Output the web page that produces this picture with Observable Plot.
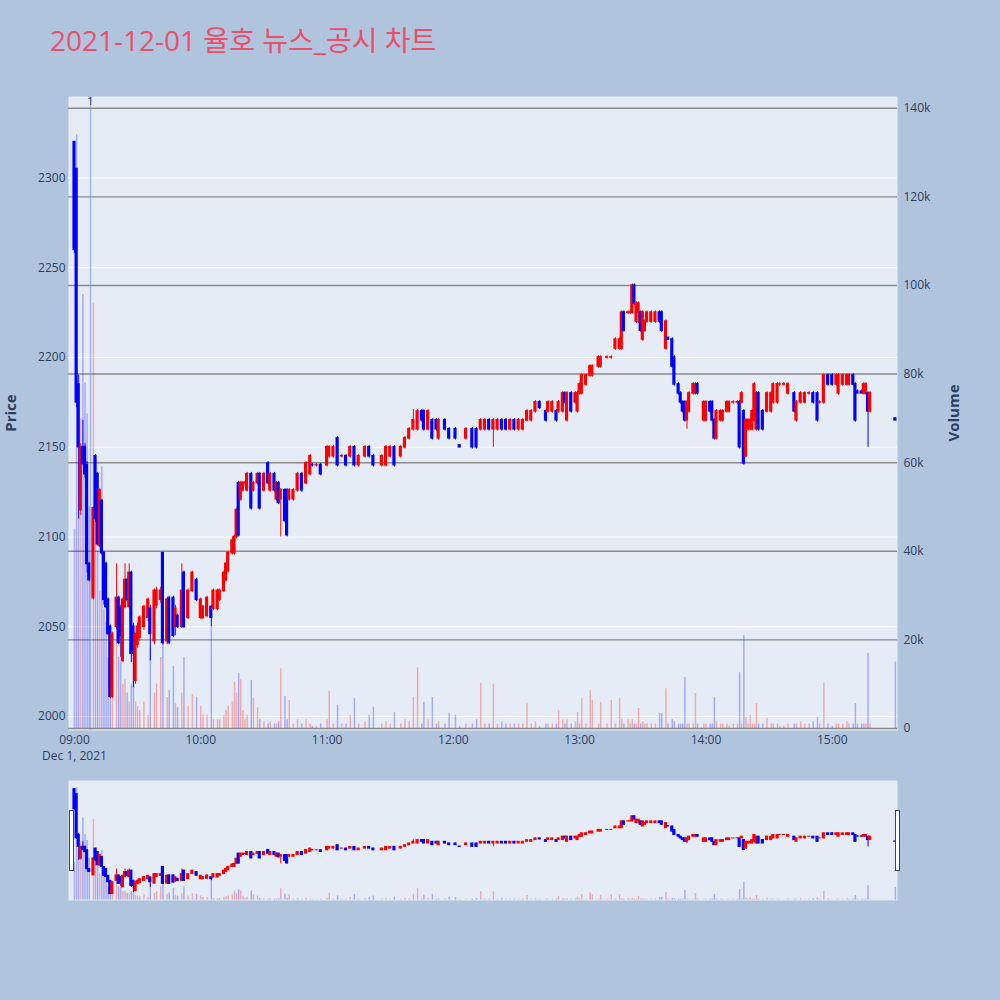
<!DOCTYPE html>
<html><head><meta charset="utf-8">
<script src="https://cdn.jsdelivr.net/npm/d3@7"></script>
<script src="https://cdn.jsdelivr.net/npm/@observablehq/plot@0.6"></script>
<style>
body{margin:0;background:#b0c4de;}
#root{position:relative;width:1000px;height:1000px;background:#b0c4de;overflow:hidden;font-family:"Open Sans","Noto Sans CJK KR",sans-serif;}
.layer{position:absolute;left:0;}
.layer svg{display:block;max-width:none;}
</style></head>
<body><div id="root"></div>
<script>
// ---------- data (minute offsets from 09:00) ----------
const minutes = [
0,1,2,3,4,5,6,7,9,10, 11,12,13,14,15,16,17,18,20,21, 22,23,24,25,26,27,28,29,30,31,
33,35,36,38,39,41,42,44,45,47, 48,49,51,52,54,56,58,60,61,63, 65,66,68,69,71,72,73,75,76,77,
78,79,80,81,82,84,85,87,88,90, 92,93,95,96,97,98,100,101,102,104, 106,108,110,112,113,115,117,120,121,123,
125,127,129,131,133,135,138,140,142,146, 148,150,152,155,157,159,161,163,165,166, 168,170,172,173,176,178,181,183,186,189,
191,193,195,197,199,201,203,205,207,209, 211,213,215,217,219,221,224,225,227,229, 230,232,233,234,236,238,239,240,241,243,
245,246,249,250,253,255,257,259,260,261, 263,264,265,266,267,268,269,270,271,272, 274,276,278,279,281,282,284,285,287,288,
289,290,291,292,294,295,296,299,300,302, 303,304,305,307,308,310,311,313,315,316, 317,318,319,320,321,322,323,324,325,327,
329,331,332,334,335,337,339,342,343,345, 347,349,351,353,354,356,358,360,362,363, 365,367,368,370,371,372,374,375,376,377,
378,390];
const open = [
2320,2305,2185,2115,2150,2150,2140,2085,2066,2145, 2135,2095,2120,2091,2085,2065,2050,2011,2050,2066, 2060,2031,2061,2076,2061,2080,2050,2020,2040,2044,
2050,2055,2060,2042,2062,2065,2091,2042,2066,2066, 2050,2056,2050,2080,2055,2070,2076,2055,2055,2056, 2061,2060,2060,2065,2070,2076,2081,2091,2091,2100,
2130,2121,2126,2130,2126,2135,2126,2130,2135,2126, 2141,2126,2135,2121,2130,2121,2126,2126,2121,2121, 2126,2135,2130,2135,2140,2140,2140,2140,2145,2145,
2155,2145,2145,2145,2150,2140,2145,2150,2145,2140, 2140,2145,2150,2145,2150,2155,2160,2160,2170,2170, 2160,2165,2165,2155,2165,2160,2160,2151,2155,2160,
2160,2160,2160,2165,2160,2160,2165,2165,2160,2165, 2160,2160,2165,2165,2170,2175,2170,2170,2170,2170, 2170,2170,2180,2165,2180,2175,2170,2180,2180,2185,
2190,2190,2195,2195,2200,2200,2205,2205,2205,2225, 2225,2225,2225,2240,2220,2225,2225,2210,2215,2220, 2220,2220,2225,2225,2205,2211,2210,2200,2185,2180,
2175,2175,2165,2170,2180,2180,2185,2165,2165,2175, 2175,2165,2155,2165,2165,2170,2170,2175,2175,2175, 2175,2170,2145,2160,2160,2160,2165,2160,2180,2170,
2170,2170,2175,2175,2185,2185,2180,2180,2165,2175, 2175,2180,2180,2180,2175,2175,2190,2190,2185,2180, 2185,2185,2185,2190,2185,2181,2181,2180,2180,2180,
2170,2166];
const high = [
2320,2305,2190,2152,2165,2152,2142,2086,2117,2146, 2136,2127,2121,2092,2086,2066,2051,2047,2085,2067, 2062,2066,2085,2077,2085,2081,2052,2046,2052,2056,
2062,2066,2062,2071,2072,2072,2091,2066,2067,2067, 2062,2057,2085,2081,2071,2081,2077,2066,2062,2067, 2062,2071,2071,2071,2081,2086,2092,2100,2101,2116,
2131,2131,2131,2131,2136,2136,2131,2136,2136,2136, 2142,2136,2136,2131,2131,2127,2127,2127,2127,2127, 2136,2136,2142,2146,2141,2141,2141,2151,2151,2151,
2156,2146,2146,2151,2151,2146,2151,2151,2146,2146, 2151,2151,2151,2151,2156,2161,2171,2171,2171,2171, 2171,2166,2166,2166,2166,2161,2161,2151,2161,2161,
2161,2166,2166,2166,2166,2166,2166,2166,2166,2166, 2166,2166,2171,2171,2176,2176,2171,2176,2176,2171, 2176,2181,2181,2181,2181,2181,2181,2186,2191,2191,
2196,2196,2201,2201,2201,2201,2211,2211,2226,2226, 2226,2226,2241,2241,2231,2231,2226,2226,2221,2226, 2226,2226,2226,2226,2221,2211,2211,2201,2186,2181,
2176,2176,2176,2181,2186,2186,2186,2176,2176,2176, 2176,2166,2171,2171,2171,2176,2176,2176,2176,2176, 2181,2171,2166,2166,2166,2171,2186,2181,2181,2171,
2181,2181,2186,2186,2186,2186,2186,2181,2176,2181, 2181,2181,2181,2181,2176,2191,2191,2191,2191,2191, 2191,2191,2191,2191,2186,2182,2182,2186,2186,2181,
2181,2166];
const low = [
2258,2172,2110,2112,2140,2133,2080,2075,2065,2108, 2095,2094,2090,2062,2060,2045,2010,2010,2048,2040, 2033,2030,2060,2064,2060,2030,2016,2018,2038,2042,
2048,2053,2031,2040,2060,2063,2040,2040,2040,2044, 2045,2049,2049,2049,2054,2069,2064,2054,2054,2055, 2050,2059,2059,2064,2069,2075,2080,2090,2090,2099,
2100,2120,2125,2128,2125,2115,2125,2129,2115,2125, 2129,2125,2125,2120,2118,2100,2108,2100,2120,2120, 2125,2125,2129,2134,2139,2139,2134,2139,2144,2144,
2139,2144,2139,2144,2139,2139,2144,2144,2139,2139, 2139,2144,2139,2144,2149,2154,2159,2159,2164,2159, 2159,2154,2159,2154,2159,2154,2154,2150,2154,2149,
2149,2159,2159,2159,2150,2159,2159,2159,2159,2159, 2159,2159,2164,2164,2169,2171,2164,2169,2169,2164, 2169,2169,2174,2164,2169,2174,2169,2179,2179,2184,
2189,2189,2194,2194,2199,2199,2204,2204,2204,2214, 2224,2224,2224,2229,2219,2219,2214,2209,2214,2219, 2219,2219,2219,2214,2204,2210,2194,2184,2179,2174,
2169,2164,2160,2169,2179,2179,2179,2164,2164,2169, 2164,2154,2154,2164,2164,2169,2169,2174,2174,2149, 2174,2140,2144,2159,2159,2159,2164,2159,2159,2159,
2169,2169,2174,2174,2184,2184,2179,2169,2164,2174, 2174,2179,2174,2164,2174,2174,2184,2184,2184,2179, 2184,2184,2184,2184,2164,2180,2180,2179,2179,2150,
2169,2165];
const close = [
2260,2175,2150,2150,2141,2135,2085,2076,2116,2110, 2096,2126,2091,2065,2061,2046,2011,2046,2066,2041, 2045,2065,2076,2065,2080,2035,2035,2046,2050,2055,
2061,2065,2046,2070,2070,2070,2041,2065,2041,2045, 2060,2050,2070,2050,2070,2080,2065,2065,2061,2066, 2055,2070,2070,2070,2080,2085,2091,2098,2100,2115,
2101,2130,2130,2130,2135,2116,2130,2135,2116,2135, 2130,2135,2126,2130,2119,2126,2109,2101,2126,2126, 2135,2126,2141,2145,2140,2140,2135,2150,2150,2150,
2140,2145,2140,2150,2140,2145,2150,2145,2140,2145, 2150,2150,2140,2150,2155,2160,2165,2170,2165,2160, 2170,2155,2160,2165,2160,2155,2155,2150,2160,2150,
2150,2165,2165,2160,2165,2165,2160,2160,2165,2160, 2165,2165,2170,2170,2175,2172,2165,2175,2175,2165, 2175,2180,2175,2180,2170,2180,2180,2185,2190,2190,
2195,2195,2200,2200,2200,2200,2210,2210,2225,2215, 2225,2225,2240,2230,2230,2230,2215,2225,2220,2225, 2225,2225,2220,2215,2220,2210,2195,2185,2180,2175,
2170,2165,2175,2180,2185,2185,2180,2175,2175,2170, 2165,2155,2170,2170,2170,2175,2175,2175,2175,2150, 2180,2141,2165,2165,2165,2170,2185,2180,2160,2160,
2180,2180,2185,2185,2185,2185,2185,2170,2175,2180, 2180,2180,2175,2165,2175,2190,2185,2185,2190,2190, 2190,2190,2190,2185,2165,2180,2180,2185,2185,2170,
2180,2165];
const volume = [
45000,134000,60000,70000,98000,78000,71000,50000,96000,55000, 40000,31000,59000,27000,24000,16000,15000,14000,22000,16000, 15000,10000,11000,8000,6000,10000,22000,6000,5000,4000,
6000,3000,18000,8000,10000,16000,20000,7000,8500,14000, 5600,4700,8000,16000,5000,7700,7000,5000,3000,3000, 23000,2000,2000,2000,3000,4000,5000,6000,10400,8000,
12400,11000,4000,2000,3000,10800,6800,4700,2000,1500, 1000,1500,1000,1000,1500,13500,7200,2000,6300,1000, 2000,1000,2000,1000,500,500,1000,2000,8400,1000,
5200,1000,1000,3000,6800,1000,1500,3000,4800,1000, 1500,1000,3600,1000,2000,1500,7000,13700,1000,5900, 2000,7000,1000,1500,1000,3400,3000,500,1000,1000,
2000,10200,1000,1000,10000,1000,1500,1000,1000,1000, 1000,1000,5600,1000,1500,500,1000,1000,1000,1000, 4000,2000,1000,2000,1000,1500,3600,1000,6700,1000,
8600,6300,1000,5900,1000,6300,1000,6700,2000,1000, 2000,1000,2000,1000,1000,4500,1000,1500,1000,1000, 1000,1000,3400,3400,9000,1000,2000,1500,1000,1000,
1000,11500,1000,1000,1000,7900,1000,1000,1000,1000, 1000,7000,1500,1000,1000,1000,500,1000,1000,12600, 1000,21000,2500,1000,2900,1000,1000,5600,1000,1000,
2300,1000,1000,1000,500,500,1000,1000,1000,1500, 1000,1000,1500,2500,1000,10200,1000,500,1000,1000, 1000,1500,1000,1000,5600,1000,1000,1000,1000,17000,
1000,15000];
const priceTicks = [2000,2050,2100,2150,2200,2250,2300];
const volumeTicks = [0,20000,40000,60000,80000,100000,120000,140000];
const hourTicks = ["09:00","10:00","11:00","12:00","13:00","14:00","15:00"];
const newsTimes = ["09:07:36"];
const newsLabels = ["1"];
const titleText = "2021-12-01 율호 뉴스_공시 차트";
const dateLabel = "Dec 1, 2021";

// ---------- helpers ----------
const day = Date.UTC(2021, 11, 1);
const parseHM = s => { const p = s.split(":").map(Number); return new Date(day + ((p[0]*60 + p[1])*60 + (p[2]||0))*1000); };
const open0 = parseHM("09:00");
const at = m => new Date(+open0 + m*60000);
const UP = "#ff0000", DOWN = "#0000ff";
const bars = minutes.map((m, i) => {
  const up = close[i] > open[i] ? true : close[i] < open[i] ? false : (i === 0 || close[i] >= close[i-1]);
  return {time: at(m), open: open[i], high: high[i], low: low[i], close: close[i], volume: volume[i], color: up ? UP : DOWN};
});
const news = newsTimes.map((s, i) => ({time: parseHM(s), label: newsLabels[i]}));

const xDomain = [at(-2.85), at(391)];
const priceDomain = [1992.2, 2345.4];
const volDomain = [-450, 142650];
const W = 1000, ML = 68, MR = 103;
const txt = "#2a3f5f";
const font = '"Open Sans","Noto Sans CJK KR",sans-serif';
const baseStyle = {background: "transparent", fontFamily: font, fontSize: "12px", color: txt, overflow: "visible"};
const half = 0.75*60000;

function candleMarks(inset) {
  return [
    Plot.ruleX(bars, {x: "time", y1: "low", y2: "high", stroke: "color", strokeWidth: 1}),
    Plot.rect(bars, {x1: d => new Date(+d.time - half), x2: d => new Date(+d.time + half), y1: "open", y2: "close",
      fill: "color", insetTop: -inset, insetBottom: -inset})
  ];
}
function volumeMarks() {
  return [Plot.ruleX(bars, {x: "time", y1: 0, y2: "volume", stroke: "color", strokeOpacity: 0.28, strokeWidth: 1.5})];
}

const root = document.getElementById("root");
function addLayer(svg, top) {
  const d = document.createElement("div");
  d.className = "layer"; d.style.top = top + "px";
  d.appendChild(svg); root.appendChild(d);
  return svg;
}

// ---------- main chart ----------
const H = 770, MT = 96, MB = 40;
const common = {width: W, height: H, marginLeft: ML, marginRight: MR, marginTop: MT, marginBottom: MB, style: baseStyle};

addLayer(Plot.plot({
  ...common,
  x: {type: "utc", domain: xDomain, ticks: hourTicks.map(parseHM), tickFormat: d3.utcFormat("%H:%M"), tickSize: 0, tickPadding: 5, label: null},
  y: {domain: priceDomain, ticks: priceTicks, tickSize: 0, tickPadding: 3, label: null, tickFormat: d => String(d)},
  marks: [
    Plot.frame({fill: "#e5ecf6", stroke: null}),
    Plot.gridY(priceTicks, {stroke: "white", strokeOpacity: 1, strokeWidth: 1}),
    Plot.text([dateLabel], {x: () => open0, text: d => d, frameAnchor: "bottom", dy: 29, fill: txt, fontSize: 12})
  ]
}), 0);

addLayer(Plot.plot({
  ...common,
  x: {type: "utc", domain: xDomain, axis: null},
  y: {domain: volDomain, ticks: volumeTicks, axis: "right", tickSize: 0, tickPadding: 6, label: null,
      tickFormat: d => d === 0 ? "0" : (d/1000) + "k"},
  color: {type: "identity"},
  marks: [
    Plot.gridY(volumeTicks, {stroke: "#8a8a8a", strokeOpacity: 1, strokeWidth: 1.4}),
    ...volumeMarks(),
    Plot.ruleX(news, {x: "time", stroke: "#6f86f2", strokeOpacity: 0.55, strokeWidth: 1.5}),
    Plot.text(news, {x: "time", text: "label", frameAnchor: "top", dy: 1, fill: txt, fontSize: 11})
  ]
}), 0);

addLayer(Plot.plot({
  ...common,
  x: {type: "utc", domain: xDomain, axis: null},
  y: {domain: priceDomain, axis: null},
  color: {type: "identity"},
  marks: candleMarks(0.8)
}), 0);

// ---------- range slider ----------
const SH = 140;
const sCommon = {width: W, height: SH, marginLeft: ML, marginRight: MR, marginTop: 10, marginBottom: 10, style: baseStyle};
addLayer(Plot.plot({
  ...sCommon,
  x: {type: "utc", domain: xDomain, axis: null},
  y: {domain: volDomain, axis: null},
  color: {type: "identity"},
  marks: [Plot.frame({fill: "#e5ecf6", stroke: null}), ...volumeMarks()]
}), 770);
const slider = addLayer(Plot.plot({
  ...sCommon,
  x: {type: "utc", domain: xDomain, axis: null},
  y: {domain: priceDomain, axis: null},
  color: {type: "identity"},
  marks: candleMarks(0.5)
}), 770);
{
  const sx = slider.scale("x");
  const [r0, r1] = sx.range;
  const g = d3.select(slider).append("g");
  [[r0 + 1, r0 + 5], [r1 - 2, r1 + 2]].forEach(([a, b]) => {
    g.append("rect").attr("x", a).attr("y", 40).attr("width", b - a).attr("height", 60)
      .attr("fill", "white").attr("stroke", "#444").attr("stroke-width", 1).attr("shape-rendering", "crispEdges");
  });
}

// ---------- titles ----------
const ov = d3.create("svg").attr("width", W).attr("height", 1000)
  .style("position", "absolute").style("left", 0).style("top", 0).style("pointer-events", "none")
  .style("font-family", font);
ov.append("text").attr("x", 50).attr("y", 51).attr("font-size", 28).attr("fill", "#e8506a").text(titleText);
ov.append("text").attr("transform", "translate(16,413) rotate(-90)").attr("text-anchor", "middle")
  .attr("font-size", 15).attr("font-weight", "bold").attr("fill", txt).text("Price");
ov.append("text").attr("transform", "translate(959,413) rotate(-90)").attr("text-anchor", "middle")
  .attr("font-size", 15).attr("font-weight", "bold").attr("fill", txt).text("Volume");
root.appendChild(ov.node());
</script></body></html>
